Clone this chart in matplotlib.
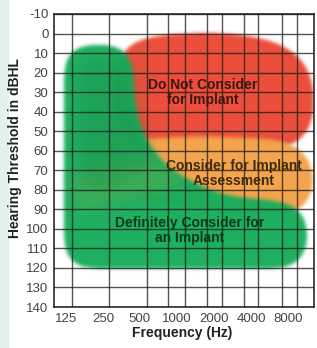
import numpy as np
import matplotlib
matplotlib.use("Agg")
import matplotlib.pyplot as plt
from matplotlib.path import Path
from matplotlib.patches import Rectangle

# axis data
freq_labels = ["125", "250", "500", "1000", "2000", "4000", "8000"]
db_ticks = list(range(-10, 150, 10))
grid_x = [0.16, 1.16, 2.19, 2.76, 3.22, 3.81, 4.22, 4.81, 5.19, 5.84, 6.24]
x_lim = (-0.32, 6.70)
y_lim = (140, -10)

# region outlines: (octave index, dB HL)
red_zone = [(1.5, 6.0), (2.2, 1.5), (3.2, -0.3), (4.4, -0.3), (5.3, 2.0),
            (6.0, 6.5), (6.45, 13.5), (6.72, 25.0), (6.78, 38.0), (6.62, 50.0),
            (6.2, 58.0), (4.0, 62.0), (2.0, 62.0), (1.2, 40.0)]
orange_zone = [(2.0, 54.0), (3.62, 52.5), (5.78, 54.0), (6.46, 59.0), (6.74, 70.0),
               (6.70, 82.7), (6.32, 93.0), (4.16, 92.0), (2.27, 86.0), (0.4, 80.0),
               (0.4, 55.0)]
green_zone = [(-0.05, 5.5), (1.78, 5.5), (1.84, 34.0), (2.0, 49.4), (2.32, 59.6),
              (2.81, 70.0), (4.16, 82.7), (6.36, 87.0), (6.55, 95.5), (6.55, 110.8),
              (6.36, 120.5), (-0.05, 120.5)]
green_core = [(0.35, 14.0), (1.75, 12.0), (1.85, 40.0), (2.1, 55.0), (2.5, 66.0),
              (1.6, 75.0), (0.5, 85.0), (0.35, 60.0)]
olive_zone = [(0.05, 72.0), (1.5, 64.0), (2.3, 62.0), (3.4, 78.0), (2.0, 82.0),
              (0.3, 92.0)]

zone_text = ["Do Not Consider\nfor Implant",
             "Consider for Implant\nAssessment",
             "Definitely Consider for\nan Implant"]
zone_text_xy = [(3.70, 30.0), (4.54, 71.5), (3.35, 101.0)]
zone_text_color = ["#3a1610", "#3c2a10", "#0d3a1c"]

nx, ny = 520, 586
xs = np.linspace(x_lim[0], x_lim[1], nx)
ys = np.linspace(y_lim[1], y_lim[0], ny)
XX, YY = np.meshgrid(xs, ys)
coords = np.column_stack([XX.ravel(), YY.ravel()])


def blur(a, sigma):
    r = int(3 * sigma)
    k = np.exp(-0.5 * (np.arange(-r, r + 1) / sigma) ** 2)
    k /= k.sum()
    a = np.pad(a, r, mode="constant")
    a = np.apply_along_axis(lambda v: np.convolve(v, k, mode="same"), 0, a)
    a = np.apply_along_axis(lambda v: np.convolve(v, k, mode="same"), 1, a)
    return a[r:-r, r:-r]


def blob(ax, pts, color, alpha, rnd=28, soft=3.5, z=1):
    # round the corners, then soften the edge
    mask = Path(pts).contains_points(coords).reshape(ny, nx).astype(float)
    m = (blur(mask, rnd) > 0.5).astype(float)
    t = blur(m, soft)
    rgba = np.zeros((ny, nx, 4))
    rgba[..., :3] = matplotlib.colors.to_rgb(color)
    rgba[..., 3] = t * alpha
    ax.imshow(rgba, extent=(x_lim[0], x_lim[1], y_lim[0], y_lim[1]),
              origin="upper", aspect="auto", zorder=z, interpolation="bilinear")


fig = plt.figure(figsize=(3.17, 3.48), dpi=100)
fig.patches.append(Rectangle((0, 0), 8 / 317, 1, transform=fig.transFigure,
                             color="#e2f1ee", zorder=0))
ax = fig.add_axes([54 / 317, 1 - 307 / 348, 260 / 317, 293 / 348])

blob(ax, red_zone, "#eb4e3a", 1.0, z=1)
blob(ax, orange_zone, "#f4a44c", 1.0, z=2)
blob(ax, green_zone, "#17ad5c", 0.97, rnd=30, z=3)
blob(ax, olive_zone, "#7fae4e", 0.35, rnd=16, soft=14, z=4)
blob(ax, green_core, "#1b9450", 0.45, rnd=16, soft=14, z=4)

for gx in grid_x:
    ax.axvline(gx, color="#1a1a1a", lw=1.0, alpha=0.75, zorder=6)
for d in db_ticks:
    ax.axhline(d, color="#1a1a1a", lw=1.0, alpha=0.75, zorder=6)

for txt, (tx, ty), c in zip(zone_text, zone_text_xy, zone_text_color):
    ax.text(tx, ty, txt, ha="center", va="center", color=c, fontsize=10,
            fontweight="bold", family="Liberation Sans", linespacing=1.1, zorder=7)

ax.set_xlim(*x_lim)
ax.set_ylim(*y_lim)
ax.set_xticks(range(len(freq_labels)))
ax.set_xticklabels(freq_labels)
ax.set_yticks(db_ticks)
ax.set_yticklabels([str(d) for d in db_ticks])
ax.tick_params(length=0, labelsize=9.5, labelcolor="#444444")
ax.tick_params(axis="y", pad=4)
ax.tick_params(axis="x", pad=4)
for lab in ax.get_xticklabels() + ax.get_yticklabels():
    lab.set_family("Liberation Sans")
for s in ax.spines.values():
    s.set_color("#1a1a1a")
    s.set_linewidth(1.1)
    s.set_zorder(8)

fig.text(182 / 317, 1 - 333 / 348, "Frequency (Hz)", ha="center", va="center",
         fontsize=10, fontweight="bold", family="Liberation Sans", color="#222222")
fig.text(15 / 317, 1 - 148 / 348, "Hearing Threshold in dBHL", ha="center",
         va="center", rotation=90, fontsize=10, fontweight="bold",
         family="Liberation Sans", color="#222222")

fig.savefig("out.png", dpi=100, facecolor="white")
